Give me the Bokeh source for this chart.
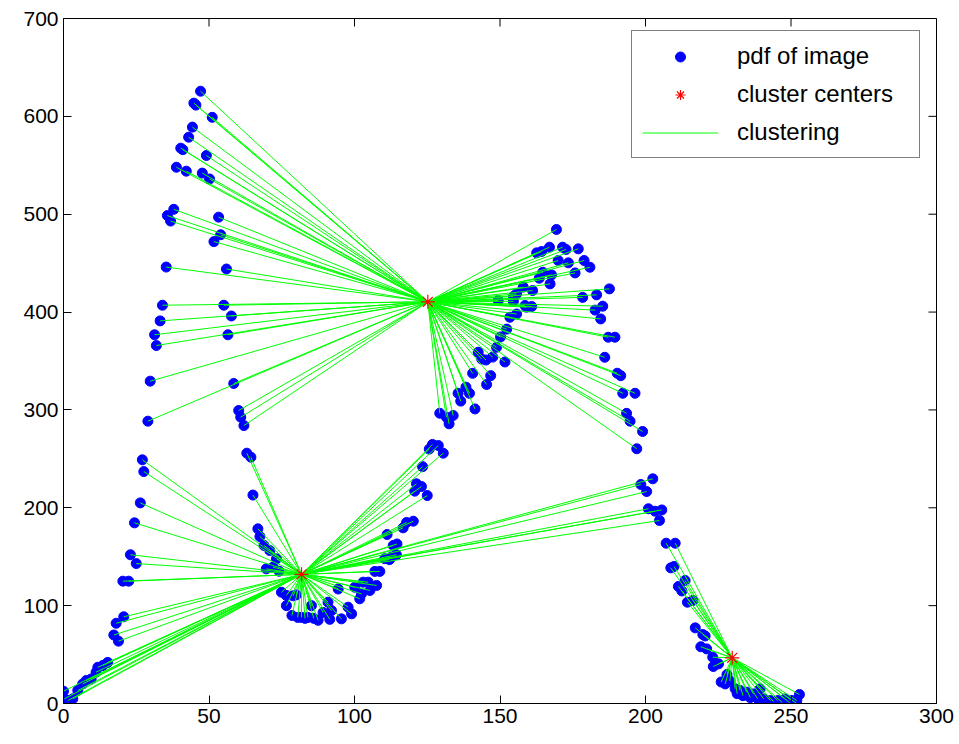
import numpy as np
from bokeh.plotting import figure
from bokeh.models import Range1d, Legend, LegendItem, FixedTicker
from bokeh.embed import file_html
from bokeh.resources import INLINE

# ---- data ----
pdf_x = [0.0, 0.3, 1.5, 3.2, 4.9, 6.6, 7.8, 9.5, 11.2, 11.8, 13.5, 15.2,
         17.3, 18.1, 18.9, 20.4, 20.7, 22.4, 23.0, 24.4, 25.0, 26.4, 27.1, 27.6,
         29.0, 29.8, 31.3, 31.9, 33.2, 34.0, 35.3, 35.7, 36.8, 37.9, 38.8, 40.3,
         41.0, 42.2, 43.0, 44.3, 44.8, 45.5, 47.1, 47.7, 49.1, 50.2, 51.1, 51.7,
         53.3, 54.0, 55.1, 56.0, 56.5, 57.7, 58.5, 60.2, 60.9, 62.0, 63.0, 64.4,
         65.1, 66.8, 67.5, 68.9, 69.7, 70.9, 72.0, 73.2, 74.1, 74.9, 76.6, 76.6,
         78.5, 78.9, 80.0, 80.5, 81.8, 83.0, 84.0, 85.2, 86.0, 87.5, 89.2, 90.9,
         91.5, 92.1, 94.4, 95.5, 97.8, 99.0, 100.1, 101.8, 102.4, 103.0, 104.7, 105.3,
         107.0, 107.6, 108.7, 110.4, 111.2, 112.0, 112.7, 113.3, 114.4, 114.6, 116.7, 117.9,
         120.2, 120.7, 121.3, 123.0, 123.4, 125.0, 125.7, 126.8, 128.8, 129.3, 130.5, 131.6,
         132.5, 133.9, 135.6, 136.5, 138.3, 139.5, 140.6, 141.4, 142.5, 143.7, 145.2, 145.4,
         146.8, 147.5, 148.8, 149.4, 150.2, 151.7, 152.3, 153.4, 154.6, 154.6, 155.7, 155.7,
         158.0, 158.6, 159.1, 160.9, 161.2, 162.6, 163.5, 164.3, 164.7, 167.0, 167.2, 167.7,
         169.4, 170.0, 171.5, 172.7, 173.5, 175.8, 176.9, 178.4, 178.9, 180.9, 182.7, 183.2,
         184.6, 185.3, 186.0, 187.2, 187.6, 189.5, 190.3, 191.5, 192.2, 193.5, 194.7, 196.4,
         197.0, 198.4, 199.0, 200.4, 201.0, 202.5, 203.3, 204.8, 205.6, 207.1, 208.7, 209.8,
         210.2, 211.3, 212.5, 213.6, 214.4, 216.3, 217.1, 219.0, 219.7, 220.5, 221.0, 223.1,
         223.3, 225.1, 226.0, 227.4, 228.0, 229.0, 230.8, 231.5, 232.5, 233.5, 234.8, 236.0,
         237.1, 238.5, 239.4, 240.6, 242.9, 244.0, 245.5, 247.0, 248.0, 249.5, 250.3, 251.8,
         252.0, 252.9]
pdf_y = [12.6, 4.8, 3.0, 4.8, 13.3, 20.0, 23.5, 25.0, 32.0, 37.0, 38.8, 42.0,
         70.0, 82.0, 63.7, 125.0, 88.6, 125.0, 152.0, 184.6, 143.0, 205.0, 249.0, 237.0,
         288.5, 329.4, 376.8, 365.8, 391.0, 407.0, 446.0, 498.6, 493.0, 505.0, 548.0, 567.5,
         566.0, 544.0, 578.7, 589.0, 613.5, 611.5, 625.7, 542.0, 560.0, 536.0, 599.0, 472.0,
         497.0, 479.0, 407.0, 444.0, 376.8, 396.0, 327.0, 299.4, 292.6, 284.0, 255.8, 251.7,
         213.0, 178.5, 170.6, 161.5, 137.6, 156.3, 139.3, 147.8, 135.2, 113.7, 110.4, 100.0,
         90.0, 110.0, 111.0, 88.0, 88.0, 87.0, 88.0, 100.0, 87.0, 85.0, 93.0, 103.5,
         86.0, 95.0, 117.0, 86.5, 98.4, 91.6, 118.8, 107.0, 112.0, 124.0, 124.0, 115.5,
         135.0, 120.6, 135.0, 148.0, 172.7, 147.0, 149.7, 161.5, 152.0, 163.0, 179.5, 185.0,
         186.3, 217.0, 224.5, 221.7, 242.0, 212.5, 260.0, 264.7, 263.6, 296.6, 255.8, 292.5,
         285.8, 294.3, 317.0, 309.0, 323.3, 317.0, 337.4, 301.0, 359.0, 352.0, 351.0, 326.0,
         335.0, 354.0, 364.0, 411.8, 374.6, 349.0, 382.6, 394.7, 411.0, 416.0, 398.0, 418.6,
         425.5, 406.7, 405.0, 405.7, 422.0, 460.5, 434.6, 461.9, 440.7, 466.3, 428.8, 438.0,
         484.4, 452.7, 466.3, 464.0, 450.3, 440.0, 464.6, 415.0, 452.7, 445.8, 402.0, 417.6,
         393.0, 406.0, 353.8, 374.3, 423.7, 374.3, 337.5, 335.0, 317.0, 296.5, 288.5, 317.0,
         260.3, 223.8, 278.0, 216.6, 199.0, 229.6, 196.5, 187.0, 197.8, 163.8, 138.6, 140.0,
         163.8, 119.6, 115.0, 125.7, 103.5, 105.3, 77.3, 58.0, 70.5, 69.0, 55.8, 47.3,
         37.8, 40.5, 22.0, 20.0, 29.6, 23.0, 15.0, 10.0, 13.3, 8.0, 11.6, 6.0,
         9.8, 5.0, 15.0, 4.7, 3.0, 2.0, 3.0, 1.0, 4.7, 1.0, 3.0, 0.3,
         3.0, 9.2]

center_x = [81.8, 125.2, 229.8]
center_y = [132.0, 410.5, 46.7]

x_ticks = [0, 50, 100, 150, 200, 250, 300]
y_ticks = [0, 100, 200, 300, 400, 500, 600, 700]

X_MIN, X_MAX = 0, 300
Y_MIN, Y_MAX = 0, 700

# ---- assignment of each point to its nearest center ----
px = np.array(pdf_x)
py = np.array(pdf_y)
cx = np.array(center_x)
cy = np.array(center_y)
d = (px[:, None] - cx[None, :]) ** 2 + (py[:, None] - cy[None, :]) ** 2
idx = np.argmin(d, axis=1)

FONT = "Liberation Sans"
W, H = 959, 744
BL, BR, BT, BB = 63, 23, 18, 41
frame_w = W - BL - BR
frame_h = H - BT - BB
TICK_PX = 8

p = figure(width=W, height=H, x_range=Range1d(X_MIN, X_MAX), y_range=Range1d(Y_MIN, Y_MAX),
           output_backend="svg", toolbar_location=None,
           min_border_left=BL, min_border_right=BR, min_border_top=BT, min_border_bottom=BB)
p.xgrid.visible = False
p.ygrid.visible = False
p.outline_line_color = "black"
p.outline_line_width = 1
p.background_fill_color = "white"
p.border_fill_color = "white"

for ax, ticks in ((p.xaxis[0], x_ticks), (p.yaxis[0], y_ticks)):
    ax.ticker = FixedTicker(ticks=ticks)
    ax.major_tick_in = TICK_PX
    ax.major_tick_out = 0
    ax.minor_tick_in = 0
    ax.minor_tick_out = 0
    ax.axis_line_color = "black"
    ax.major_tick_line_color = "black"
    ax.major_label_text_font = FONT
    ax.major_label_text_font_size = "21px"
    ax.major_label_text_color = "black"
    ax.major_label_standoff = 5

# inward tick marks on the top and right edges (box on)
xt = np.array(x_ticks, dtype=float)
yt = np.array(y_ticks, dtype=float)
dy_tick = TICK_PX * (Y_MAX - Y_MIN) / frame_h
dx_tick = TICK_PX * (X_MAX - X_MIN) / frame_w
p.segment(x0=xt, y0=np.full_like(xt, Y_MAX), x1=xt, y1=np.full_like(xt, Y_MAX - dy_tick),
          line_color="black", line_width=1)
p.segment(x0=np.full_like(yt, X_MAX), y0=yt, x1=np.full_like(yt, X_MAX - dx_tick), y1=yt,
          line_color="black", line_width=1)

dots = p.scatter(px, py, marker="circle", size=10, fill_color="#0000ff", line_color="#0000ff")
segs = p.segment(x0=px, y0=py, x1=cx[idx], y1=cy[idx], line_color="#00ff00", line_width=1)
stars = p.scatter(cx, cy, marker="asterisk", size=14, line_color="#ff0000", line_width=1.2)

legend = Legend(items=[
    LegendItem(label="pdf of image", renderers=[dots]),
    LegendItem(label="cluster centers", renderers=[stars]),
    LegendItem(label="clustering", renderers=[segs]),
], location=(568, 545))
legend.label_text_font = FONT
legend.label_text_font_size = "24px"
legend.label_text_color = "black"
legend.glyph_width = 76
legend.glyph_height = 25
legend.label_height = 30
legend.label_width = 172
legend.label_standoff = 19
legend.spacing = 8
legend.padding = 10
legend.margin = 0
legend.border_line_color = "black"
legend.border_line_width = 1
legend.background_fill_color = "white"
legend.background_fill_alpha = 1.0
p.add_layout(legend)

open("out.html", "w").write(file_html(p, INLINE))
